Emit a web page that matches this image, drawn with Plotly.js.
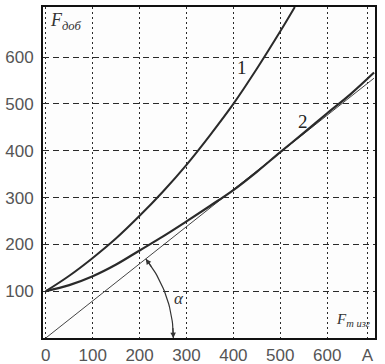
<!DOCTYPE html>
<html>
<head>
<meta charset="utf-8">
<script src="https://cdn.plot.ly/plotly-3.0.1.min.js"></script>
<style>html,body{margin:0;padding:0;background:#fff;}#chart{width:385px;height:364px;}</style>
</head>
<body>
<div id="chart"></div>
<script>
// Curve 1
var curve1X = [0, 50, 100, 150, 200, 250, 300, 350, 400, 450, 500, 531];
var curve1Y = [100, 133, 171, 213, 261, 313, 370, 433, 500, 575, 655, 707];
// Curve 2
var curve2X = [0, 50, 100, 150, 200, 250, 300, 350, 400, 450, 500, 550, 600, 650, 700];
var curve2Y = [100, 113, 132, 157, 187, 217, 249, 282, 316, 355, 397, 438, 480, 521, 567];
// Straight line through origin
var lineX = [0, 700];
var lineY = [0, 555];
// Tick labels
var xTickVals = [0, 100, 200, 300, 400, 500, 600, 686];
var xTickText = ['0', '100', '200', '300', '400', '500', '600', 'A'];
var yTickVals = [100, 200, 300, 400, 500, 600];
var yTickText = ['100', '200', '300', '400', '500', '600'];
// Angle arc (radius in axis units)
var arcRadius = 272;

var slope = lineY[1] / lineX[1];
var ang = Math.atan(slope);
var arcX = [], arcY = [];
for (var i = 0; i <= 30; i++) {
  var t = ang * i / 30;
  arcX.push(arcRadius * Math.cos(t));
  arcY.push(arcRadius * Math.sin(t));
}

var ink = '#2a2a2a';
var traces = [
  {x: lineX, y: lineY, mode: 'lines', line: {color: '#444', width: 1}, hoverinfo: 'skip'},
  {x: curve2X, y: curve2Y, mode: 'lines', line: {color: ink, width: 2.2, shape: 'spline'}, hoverinfo: 'skip'},
  {x: curve1X, y: curve1Y, mode: 'lines', line: {color: ink, width: 2, shape: 'spline'}, hoverinfo: 'skip'},
  {x: arcX, y: arcY, mode: 'lines', line: {color: '#333', width: 1.2}, hoverinfo: 'skip'}
];

var n = arcX.length;
var serif = 'Liberation Serif, DejaVu Serif, serif';
var layout = {
  width: 385, height: 364,
  margin: {l: 43, r: 10, t: 7, b: 26},
  paper_bgcolor: '#ffffff',
  plot_bgcolor: '#fdfdfd',
  showlegend: false,
  font: {family: 'Liberation Sans, Arial, sans-serif', size: 17, color: '#555'},
  xaxis: {
    range: [-6, 702], tickvals: xTickVals, ticktext: xTickText,
    showgrid: true, gridcolor: '#2a2a2a', gridwidth: 1, griddash: '2px,3px',
    zeroline: false, showline: true, linecolor: '#111', linewidth: 2, mirror: true,
    ticks: '', ticklabelstandoff: 1, tickfont: {size: 17, color: '#555'}
  },
  yaxis: {
    range: [0, 707], tickvals: yTickVals, ticktext: yTickText,
    showgrid: true, gridcolor: '#2a2a2a', gridwidth: 1, griddash: '6px,4px',
    zeroline: false, showline: true, linecolor: '#111', linewidth: 2, mirror: true,
    ticks: '', ticklabelstandoff: 4, tickfont: {size: 17, color: '#555'}
  },
  annotations: [
    {x: 418, y: 578, text: '1', showarrow: false, font: {family: serif, size: 19, color: '#222'}},
    {x: 548, y: 462, text: '2', showarrow: false, font: {family: serif, size: 19, color: '#222'}},
    {x: 283, y: 84, text: '<i>α</i>', showarrow: false, font: {family: serif, size: 17, color: '#333'}},
    {xref: 'paper', yref: 'paper', x: 0.015, y: 0.955, xanchor: 'left', yanchor: 'middle',
     text: '<i>F<sub>доб</sub></i>', showarrow: false, font: {family: serif, size: 18, color: '#333'}},
    {xref: 'paper', yref: 'paper', x: 0.99, y: 0.055, xanchor: 'right', yanchor: 'middle',
     text: '<i>F<sub>т изг</sub></i>', showarrow: false, font: {family: serif, size: 15, color: '#333'}},
    {x: arcX[n - 1], y: arcY[n - 1], ax: arcX[n - 5], ay: arcY[n - 5], axref: 'x', ayref: 'y',
     showarrow: true, arrowhead: 2, arrowsize: 1, arrowwidth: 1.1, arrowcolor: '#333', text: ''},
    {x: arcX[0], y: arcY[0], ax: arcX[4], ay: arcY[4], axref: 'x', ayref: 'y',
     showarrow: true, arrowhead: 2, arrowsize: 1, arrowwidth: 1.1, arrowcolor: '#333', text: ''}
  ]
};

Plotly.newPlot('chart', traces, layout, {displayModeBar: false, staticPlot: true});
</script>
</body>
</html>
